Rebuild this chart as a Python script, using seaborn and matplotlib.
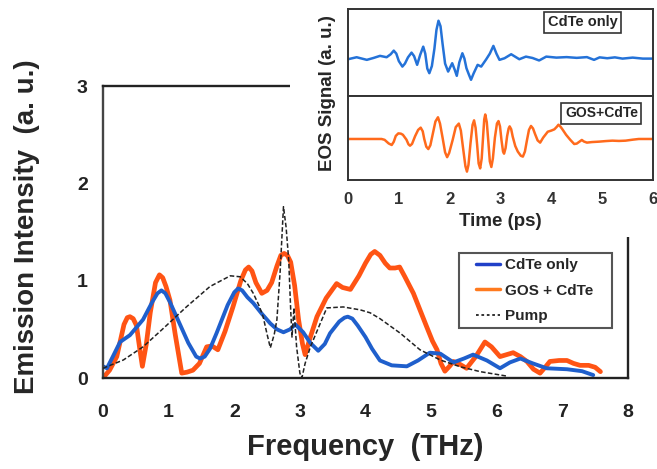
import numpy as np
import pandas as pd
import matplotlib
matplotlib.use("Agg")
import matplotlib.pyplot as plt
from matplotlib.patches import Rectangle
from matplotlib.lines import Line2D
import seaborn as sns

# ---------------- data ----------------
cdte_f = [0.00, 0.06, 0.15, 0.26, 0.41, 0.61, 0.75, 0.83, 0.89, 0.95, 1.02, 1.12, 1.30, 1.42, 1.48,
          1.55, 1.63, 1.73, 1.90, 2.00, 2.06, 2.12, 2.20, 2.29, 2.42, 2.55, 2.65, 2.75, 2.85, 2.93,
          3.05, 3.16, 3.28, 3.38, 3.46, 3.60, 3.68, 3.73, 3.80, 3.88, 4.00, 4.10, 4.22, 4.40, 4.63,
          4.80, 4.98, 5.14, 5.34, 5.50, 5.64, 5.85, 6.05, 6.20, 6.36, 6.55, 6.76, 7.07, 7.30, 7.47]
cdte_v = [0.12, 0.10, 0.22, 0.37, 0.44, 0.60, 0.78, 0.87, 0.90, 0.87, 0.78, 0.63, 0.36, 0.22, 0.20,
          0.22, 0.30, 0.46, 0.75, 0.88, 0.92, 0.90, 0.83, 0.77, 0.66, 0.56, 0.50, 0.47, 0.50, 0.55,
          0.47, 0.36, 0.28, 0.35, 0.46, 0.58, 0.62, 0.63, 0.61, 0.54, 0.42, 0.30, 0.18, 0.13, 0.12,
          0.18, 0.26, 0.25, 0.16, 0.20, 0.24, 0.18, 0.10, 0.16, 0.20, 0.15, 0.10, 0.09, 0.07, 0.03]

gos_f = [0.00, 0.10, 0.21, 0.32, 0.37, 0.41, 0.46, 0.51, 0.56, 0.60, 0.66, 0.72, 0.80, 0.86, 0.91,
         0.96, 1.02, 1.10, 1.20, 1.28, 1.37, 1.47, 1.58, 1.66, 1.75, 1.86, 1.98, 2.10, 2.17, 2.22,
         2.27, 2.33, 2.42, 2.50, 2.57, 2.65, 2.71, 2.76, 2.81, 2.86, 2.92, 2.98, 3.04, 3.08, 3.15,
         3.26, 3.40, 3.56, 3.65, 3.77, 3.90, 4.00, 4.08, 4.14, 4.22, 4.30, 4.37, 4.45, 4.52, 4.60,
         4.73, 4.83, 4.93, 5.02, 5.09, 5.15, 5.21, 5.28, 5.34, 5.44, 5.54, 5.68, 5.82, 5.92, 6.05,
         6.15, 6.25, 6.36, 6.46, 6.56, 6.66, 6.75, 6.81, 6.95, 7.07, 7.17, 7.27, 7.40, 7.50, 7.58]
gos_v = [0.00, 0.08, 0.22, 0.55, 0.62, 0.63, 0.61, 0.54, 0.30, 0.12, 0.35, 0.67, 0.98, 1.06, 1.03,
         0.94, 0.80, 0.45, 0.05, 0.06, 0.08, 0.15, 0.32, 0.33, 0.29, 0.48, 0.73, 1.00, 1.11, 1.14,
         1.10, 0.98, 0.87, 0.90, 0.98, 1.15, 1.26, 1.28, 1.26, 1.19, 0.95, 0.60, 0.35, 0.24, 0.40,
         0.63, 0.82, 0.97, 0.93, 0.91, 1.05, 1.18, 1.27, 1.30, 1.26, 1.18, 1.13, 1.13, 1.14, 1.04,
         0.87, 0.70, 0.53, 0.38, 0.29, 0.15, 0.07, 0.12, 0.17, 0.14, 0.10, 0.22, 0.37, 0.32, 0.22,
         0.24, 0.26, 0.22, 0.17, 0.09, 0.05, 0.12, 0.17, 0.18, 0.18, 0.15, 0.13, 0.13, 0.11, 0.065]

pump_f = [0.00, 0.31, 0.61, 0.92, 1.27, 1.63, 1.94, 2.09, 2.20, 2.29, 2.38, 2.44, 2.50, 2.55,
          2.61, 2.65, 2.70, 2.75, 2.79, 2.83, 2.86, 2.88, 2.91, 2.95, 3.00, 3.03, 3.08, 3.16,
          3.31, 3.41, 3.66, 3.92, 4.07, 4.22, 4.53, 4.83, 5.14, 5.44, 5.75, 6.15]
pump_v = [0.10, 0.185, 0.32, 0.51, 0.73, 0.94, 1.05, 1.04, 0.97, 0.87, 0.74, 0.63, 0.45, 0.31,
          0.45, 0.60, 1.10, 1.76, 1.55, 1.21, 0.70, 0.42, 0.72, 0.32, 0.05, 0.00, 0.15, 0.32,
          0.56, 0.72, 0.73, 0.70, 0.67, 0.61, 0.46, 0.29, 0.185, 0.116, 0.065, 0.02]

eos_cdte_t = [0.00, 0.17, 0.37, 0.50, 0.63, 0.76, 0.84, 0.90, 0.95, 1.00, 1.07, 1.12, 1.18, 1.25,
              1.30, 1.36, 1.42, 1.48, 1.52, 1.56, 1.60, 1.65, 1.70, 1.74, 1.78, 1.82, 1.86, 1.91,
              1.97, 2.01, 2.05, 2.10, 2.14, 2.19, 2.25, 2.29, 2.33, 2.38, 2.42, 2.47, 2.55, 2.62,
              2.72, 2.79, 2.86, 2.92, 2.98, 3.08, 3.21, 3.37, 3.50, 3.63, 3.76, 3.90, 4.10, 4.30,
              4.50, 4.70, 4.84, 4.95, 5.10, 5.25, 5.40, 5.60, 5.80, 6.00]
eos_cdte_s = [-0.05, 0.11, -0.10, 0.05, 0.22, 0.11, 0.35, 0.64, 0.40, -0.20, -0.64, -0.40, 0.10, 0.48,
              0.20, -0.50, 0.30, 0.96, 0.40, -0.80, -1.17, -0.60, 0.80, 2.30, 3.04, 2.60, 1.20, -0.40,
              -1.04, -0.70, -0.37, -0.90, -1.38, -0.30, 0.43, 0.00, -0.77, -1.30, -1.70, -1.20, -0.50, -0.64,
              -0.05, 0.40, 1.02, 0.40, -0.10, 0.03, 0.35, -0.05, 0.16, 0.05, -0.15, 0.16, 0.08, 0.12,
              0.06, 0.12, -0.10, 0.10, 0.03, 0.10, 0.00, 0.08, 0.00, 0.00]

eos_gos_t = [0.00, 0.66, 0.72, 0.80, 0.86, 0.90, 0.94, 0.99, 1.04, 1.08, 1.15, 1.19, 1.22, 1.26,
             1.32, 1.38, 1.43, 1.47, 1.50, 1.54, 1.58, 1.62, 1.67, 1.72, 1.77, 1.81, 1.86, 1.91,
             1.95, 1.99, 2.06, 2.12, 2.18, 2.22, 2.26, 2.31, 2.34, 2.37, 2.41, 2.45, 2.48, 2.51,
             2.54, 2.57, 2.60, 2.63, 2.66, 2.68, 2.70, 2.73, 2.76, 2.79, 2.82, 2.85, 2.89, 2.93,
             2.96, 2.99, 3.02, 3.05, 3.07, 3.10, 3.13, 3.16, 3.18, 3.21, 3.24, 3.29, 3.34, 3.40,
             3.44, 3.48, 3.52, 3.56, 3.60, 3.64, 3.68, 3.73, 3.78, 3.84, 3.93, 4.00, 4.06, 4.11,
             4.14, 4.18, 4.22, 4.29, 4.37, 4.45, 4.50, 4.55, 4.60, 4.64, 4.70, 4.80, 4.94, 5.07,
             5.20, 5.33, 5.46, 5.60, 5.72, 6.00]
eos_gos_s = [0.00, 0.00, -0.06, -0.32, -0.43, -0.20, 0.22, 0.40, 0.38, 0.30, -0.05, -0.38, -0.48, -0.35,
             0.20, 0.65, 0.81, 0.55, 0.00, -0.55, -0.72, -0.45, 0.40, 1.25, 1.55, 1.10, 0.10, -0.95,
             -1.30, -1.00, -0.05, 0.85, 1.10, 0.60, -0.55, -1.95, -2.33, -1.85, -0.30, 1.00, 1.33, 0.80,
             -0.40, -1.75, -2.10, -1.40, 0.30, 1.40, 1.75, 1.20, -0.15, -1.60, -2.00, -1.40, 0.10, 1.10,
             1.28, 0.90, -0.10, -0.90, -1.05, -0.65, 0.20, 0.75, 0.90, 0.70, 0.17, -0.50, -0.90, -1.20,
             -1.26, -0.90, -0.10, 0.65, 0.93, 0.75, 0.35, -0.10, -0.26, 0.10, 0.52, 0.60, 0.69, 0.88,
             1.02, 0.88, 0.68, 0.30, -0.05, -0.36, -0.33, -0.20, -0.07, -0.18, -0.26, -0.22, -0.19, -0.15,
             -0.12, -0.14, -0.12, -0.05, 0.00, 0.00]

freq_ticks = [0, 1, 2, 3, 4, 5, 6, 7, 8]
int_ticks = [0, 1, 2, 3]
time_ticks = [0, 1, 2, 3, 4, 5, 6]

labels = ["CdTe only", "GOS + CdTe", "Pump"]

# ---------------- style ----------------
sns.set_style("white")
plt.rcParams["font.family"] = ["Liberation Sans", "DejaVu Sans"]
plt.rcParams["font.weight"] = "bold"

W, H = 657, 469
fig = plt.figure(figsize=(W / 100, H / 100), dpi=100)

def fx(px):
    return px / W

def fy(py):
    return (H - py) / H

BLUE = "#1F5FCC"
ORANGE = "#FF5414"
IBLUE = "#2472D8"
IORANGE = "#FF6A1C"

# ---------------- main axes ----------------
AX_L, AX_R, AX_T, AX_B = 103, 628, 86, 378
ax = fig.add_axes([fx(AX_L), fy(AX_B), fx(AX_R) - fx(AX_L), fy(AX_T) - fy(AX_B)])
ax.set_zorder(0)

def axx(px):
    return (px - AX_L) / (AX_R - AX_L)

def axy(py):
    return (AX_B - py) / (AX_B - AX_T)

df_c = pd.DataFrame({"f": cdte_f, "v": cdte_v})
df_g = pd.DataFrame({"f": gos_f, "v": gos_v})
df_p = pd.DataFrame({"f": pump_f, "v": pump_v})

sns.lineplot(data=df_p, x="f", y="v", ax=ax, color="#222222", lw=1.1, sort=False,
             estimator=None, linestyle=(0, (3, 1.5)), zorder=3)
sns.lineplot(data=df_g, x="f", y="v", ax=ax, color=ORANGE, lw=3.4, sort=False,
             estimator=None, zorder=2, solid_joinstyle="round", solid_capstyle="round")
sns.lineplot(data=df_c, x="f", y="v", ax=ax, color=BLUE, lw=2.8, sort=False,
             estimator=None, zorder=2.5, solid_joinstyle="round", solid_capstyle="round")

ax.set_xlim(0, 8)
ax.set_ylim(0, 3)
ax.set_xticks(freq_ticks)
ax.set_yticks(int_ticks)
ax.set_xticklabels([str(t) for t in freq_ticks], fontsize=14, fontweight="bold")
ax.set_yticklabels([str(t) for t in int_ticks], fontsize=14, fontweight="bold")
ax.tick_params(axis="x", direction="in", length=5, width=1.3, pad=18.5, colors="#222222")
ax.tick_params(axis="y", direction="in", length=5, width=1.3, pad=11, colors="#222222")
for s in ax.spines.values():
    s.set_visible(True)
    s.set_color("#222222")
    s.set_linewidth(1.7)
ax.spines["left"].set_color("#444444")
ax.set_xlabel("Frequency  (THz)", fontsize=21, fontweight="bold", labelpad=9)
ax.set_ylabel("Emission Intensity  (a. u.)", fontsize=20, fontweight="bold")
ax.yaxis.set_label_coords(axx(40), axy(227))

# legend: frame drawn as a rectangle, entries from the legend
ax.add_patch(Rectangle((axx(459), axy(328)), axx(612) - axx(459), axy(253) - axy(328),
                       transform=ax.transAxes, facecolor="white", edgecolor="#555555",
                       lw=1.5, zorder=4))
handles = [Line2D([], [], color="#2040C8", lw=2.5),
           Line2D([], [], color="#FF7A1E", lw=2.5),
           Line2D([], [], color="#222222", lw=1.3, linestyle=(0, (1.5, 1.5)))]
leg = ax.legend(handles, labels, loc="upper left", bbox_to_anchor=(axx(476), axy(258)),
                borderaxespad=0, borderpad=0, frameon=False, handlelength=1.6,
                handletextpad=0.33, labelspacing=0.76,
                prop={"size": 11, "weight": "bold"})
leg.set_zorder(5)

# white cover under the inset
fig.add_artist(Rectangle((fx(290), fy(237)), 1, 1, transform=fig.transFigure,
                         facecolor="white", edgecolor="none", zorder=1))

# ---------------- inset ----------------
ax1 = fig.add_axes([fx(348), fy(96), fx(653) - fx(348), fy(9) - fy(96)])
ax2 = fig.add_axes([fx(348), fy(180), fx(653) - fx(348), fy(96) - fy(180)])
for a in (ax1, ax2):
    a.set_zorder(2)
    a.set_facecolor("white")
    for s in a.spines.values():
        s.set_visible(True)
        s.set_color("#333333")
        s.set_linewidth(1.4)

df_ec = pd.DataFrame({"t": eos_cdte_t, "s": eos_cdte_s})
df_eg = pd.DataFrame({"t": eos_gos_t, "s": eos_gos_s})
sns.lineplot(data=df_ec, x="t", y="s", ax=ax1, color=IBLUE, lw=1.8, sort=False,
             estimator=None, solid_joinstyle="round")
sns.lineplot(data=df_eg, x="t", y="s", ax=ax2, color=IORANGE, lw=1.8, sort=False,
             estimator=None, solid_joinstyle="round")

ax1.set_xlim(0, 6)
ax2.set_xlim(0, 6)
ax1.set_ylim(-3.0, 3.98)
ax2.set_ylim(-2.93, 3.07)
ax1.set_yticks([-2, -1, 0, 1, 2, 3])
ax2.set_yticks([-2, -1, 0, 1, 2])
ax1.set_yticklabels([])
ax2.set_yticklabels([])
ax1.set_xticks(time_ticks)
ax1.set_xticklabels([])
ax2.set_xticks(time_ticks)
ax2.set_xticklabels([str(t) for t in time_ticks], fontsize=12, fontweight="bold")
for a in (ax1, ax2):
    a.tick_params(axis="both", direction="in", length=3.5, width=1.1, colors="#333333")
    a.set_xlabel("")
    a.set_ylabel("")
ax2.tick_params(axis="x", pad=9)
ax2.set_xlabel("Time (ps)", fontsize=13.5, fontweight="bold", labelpad=4)

fig.text(fx(327), fy(93), "EOS Signal (a. u.)", rotation=90, ha="center", va="center",
         fontsize=13.5, fontweight="bold", zorder=3)

ax1.text(0.77, 0.845, "CdTe only", transform=ax1.transAxes, ha="center", va="center",
         fontsize=10.5, fontweight="bold",
         bbox=dict(boxstyle="square,pad=0.25", fc="white", ec="#333333", lw=1.2))
ax2.text(0.831, 0.792, "GOS+CdTe", transform=ax2.transAxes, ha="center", va="center",
         fontsize=10, fontweight="bold",
         bbox=dict(boxstyle="square,pad=0.25", fc="white", ec="#333333", lw=1.2))

fig.savefig("out.png", dpi=100)
